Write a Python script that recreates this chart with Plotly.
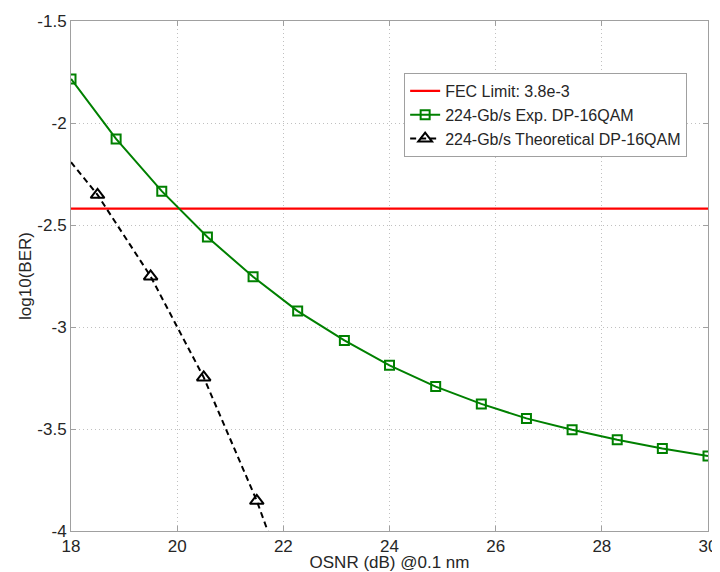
import plotly.graph_objects as go

# Data
osnr_exp = [18.0, 18.85, 19.71, 20.57, 21.43, 22.27, 23.15, 24.0, 24.87,
            25.73, 26.58, 27.44, 28.29, 29.14, 30.0]
ber_exp = [-1.784, -2.078, -2.334, -2.559, -2.754, -2.922, -3.066, -3.188,
           -3.292, -3.377, -3.448, -3.504, -3.553, -3.596, -3.632]

# theoretical curve (line through all points, markers only on measured ones)
osnr_theo_line = [18.0, 18.5, 19.5, 20.5, 21.5, 22.5]
ber_theo_line = [-2.192, -2.352, -2.752, -3.247, -3.852, -4.57]
osnr_theo_mark = [18.5, 19.5, 20.5, 21.5]
ber_theo_mark = [-2.352, -2.752, -3.247, -3.852]

fec_x = [18, 30]
fec_y = [-2.42, -2.42]

x_ticks = [18, 20, 22, 24, 26, 28, 30]
y_ticks = [-4, -3.5, -3, -2.5, -2, -1.5]
y_tick_text = ["-4", "-3.5", "-3", "-2.5", "-2", "-1.5"]

FONT = "Liberation Sans, Arial, sans-serif"
TXT = "#262626"

fig = go.Figure()
fig.add_trace(go.Scatter(
    x=fec_x, y=fec_y, mode="lines", name="FEC Limit: 3.8e-3",
    line=dict(color="#ff0000", width=2.2),
))
fig.add_trace(go.Scatter(
    x=osnr_exp, y=ber_exp, mode="lines+markers",
    name="224-Gb/s Exp. DP-16QAM",
    line=dict(color="#008000", width=2),
    marker=dict(symbol="square-open", size=9, color="#008000",
                line=dict(width=2, color="#008000")),
))
fig.add_trace(go.Scatter(
    x=osnr_theo_line, y=ber_theo_line, mode="lines", showlegend=False,
    legendgroup="theo",
    line=dict(color="#000000", width=2, dash="6px,4px"),
))
fig.add_trace(go.Scatter(
    x=osnr_theo_mark, y=ber_theo_mark, mode="markers", showlegend=False,
    legendgroup="theo",
    marker=dict(symbol="triangle-up-open", size=12, color="#000000",
                line=dict(width=2, color="#000000")),
))
# legend entry for the theoretical curve
fig.add_trace(go.Scatter(
    x=[None], y=[None], mode="lines+markers", legendgroup="theo",
    name="224-Gb/s Theoretical DP-16QAM",
    line=dict(color="#000000", width=2, dash="6px,4px"),
    marker=dict(symbol="triangle-up-open", size=12, color="#000000",
                line=dict(width=2, color="#000000")),
))

axis_common = dict(
    showline=True, linecolor="#a0a0a0", linewidth=1, mirror="ticks",
    ticks="inside", ticklen=5, tickcolor="#a0a0a0",
    showgrid=True, gridcolor="#c0c0c0", griddash="1px,3px", gridwidth=1,
    zeroline=False, automargin=False,
    tickfont=dict(family=FONT, size=17, color=TXT),
)

fig.update_xaxes(
    range=[18, 30], tickvals=x_ticks,
    title=dict(text="OSNR (dB) @0.1 nm", font=dict(family=FONT, size=17, color=TXT),
               standoff=4),
    **axis_common,
)
fig.update_yaxes(
    range=[-4, -1.5], tickvals=y_ticks, ticktext=y_tick_text,
    title=dict(text="log10(BER)", font=dict(family=FONT, size=17, color=TXT),
               standoff=1),
    **axis_common,
)

# the page body adds an 8px offset; the figure is sized/margined to compensate
fig.update_layout(
    width=712, height=564,
    margin=dict(l=63, r=12, t=13, b=41),
    paper_bgcolor="white", plot_bgcolor="white",
    font=dict(family=FONT, size=17, color=TXT),
    showlegend=True,
    legend=dict(
        x=0.523, y=0.898, xanchor="left", yanchor="top",
        bgcolor="white", bordercolor="#a0a0a0", borderwidth=1,
        font=dict(family=FONT, size=16, color=TXT),
        tracegroupgap=0, itemwidth=30,
    ),
)

fig.write_html("out.html")
